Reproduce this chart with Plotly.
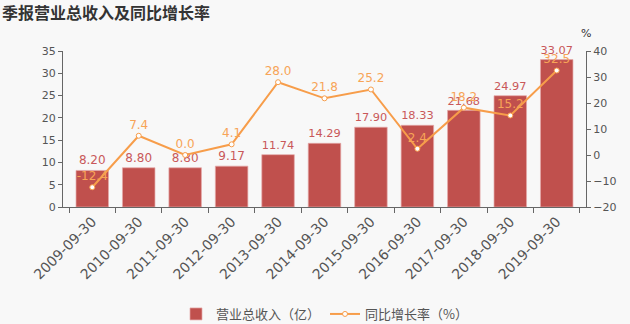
import plotly.graph_objects as go

# Quarterly report: total operating revenue (100M CNY) and YoY growth (%)
periods = ["2009-09-30", "2010-09-30", "2011-09-30", "2012-09-30", "2013-09-30",
           "2014-09-30", "2015-09-30", "2016-09-30", "2017-09-30", "2018-09-30",
           "2019-09-30"]
revenue = [8.20, 8.80, 8.80, 9.17, 11.74, 14.29, 17.90, 18.33, 21.68, 24.97, 33.07]
growth = [-12.4, 7.4, 0.0, 4.1, 28.0, 21.8, 25.2, 2.4, 18.2, 15.2, 32.5]

rev_left_ticks = [0, 5, 10, 15, 20, 25, 30, 35]
growth_right_ticks = [-20, -10, 0, 10, 20, 30, 40]

BAR = "#c0504d"
LINE = "#f79d4a"
AXIS = "#666666"
FONT = "DejaVu Sans, Noto Sans CJK SC, sans-serif"
CJK = "Noto Sans CJK SC, sans-serif"

fig = go.Figure()
fig.add_trace(go.Bar(
    x=periods, y=revenue, name="营业总收入（亿）",
    marker=dict(color=BAR, line=dict(color="rgba(230,170,170,0.7)", width=1)),
    text=[f"{v:.2f}" for v in revenue], textposition="outside",
    textfont=dict(color="#c9585a", size=12, family=FONT),
    cliponaxis=False,
))
fig.add_trace(go.Scatter(
    x=periods, y=growth, name="同比增长率（%）", yaxis="y2",
    mode="lines+markers+text",
    line=dict(color=LINE, width=2),
    marker=dict(symbol="circle", size=5, color="white", line=dict(color=LINE, width=1)),
    text=[f"{v:.1f}" for v in growth], textposition="top center",
    textfont=dict(color="#f7a457", size=12, family=FONT),
    cliponaxis=False,
))

fig.update_layout(
    width=630, height=324,
    margin=dict(l=63, r=44, t=51, b=117),
    paper_bgcolor="#f8f8f8", plot_bgcolor="#f8f8f8",
    font=dict(family=FONT, color="#555555", size=11),
    title=dict(text="<b>季报营业总收入及同比增长率</b>", x=0.003, xref="container",
               xanchor="left", y=1 - 13 / 324, yref="container", yanchor="middle",
               font=dict(size=16, color="#333333", family=CJK)),
    bargap=0.3,
    showlegend=True,
    legend=dict(orientation="h", x=0.5, xanchor="center", xref="paper",
                y=1 - 314 / 324, yref="container", yanchor="middle",
                font=dict(size=13, color="#555555", family=CJK),
                bgcolor="rgba(0,0,0,0)"),
    xaxis=dict(type="category", tickangle=-45, showgrid=False, showline=True,
               linecolor=AXIS, linewidth=1, ticks="outside", tickson="boundaries",
               ticklen=5, tickcolor=AXIS, automargin=False,
               tickfont=dict(size=14, color="#555555")),
    yaxis=dict(range=[0, 35], tickvals=rev_left_ticks, showgrid=False, zeroline=False,
               showline=True, linecolor=AXIS, ticks="outside", ticklen=4,
               tickcolor=AXIS, automargin=False, tickfont=dict(size=11, color="#555555")),
    yaxis2=dict(range=[-20, 40], tickvals=growth_right_ticks, overlaying="y", side="right",
                showgrid=False, zeroline=False, showline=True, linecolor=AXIS,
                ticks="outside", ticklen=4, tickcolor=AXIS, automargin=False,
                tickfont=dict(size=11, color="#555555")),
    annotations=[dict(text="%", xref="paper", yref="paper", x=1.0, y=1.0, yshift=18,
                      xanchor="center", yanchor="middle", showarrow=False,
                      font=dict(size=11, color="#333333"))],
)

fig.write_html("out.html")
